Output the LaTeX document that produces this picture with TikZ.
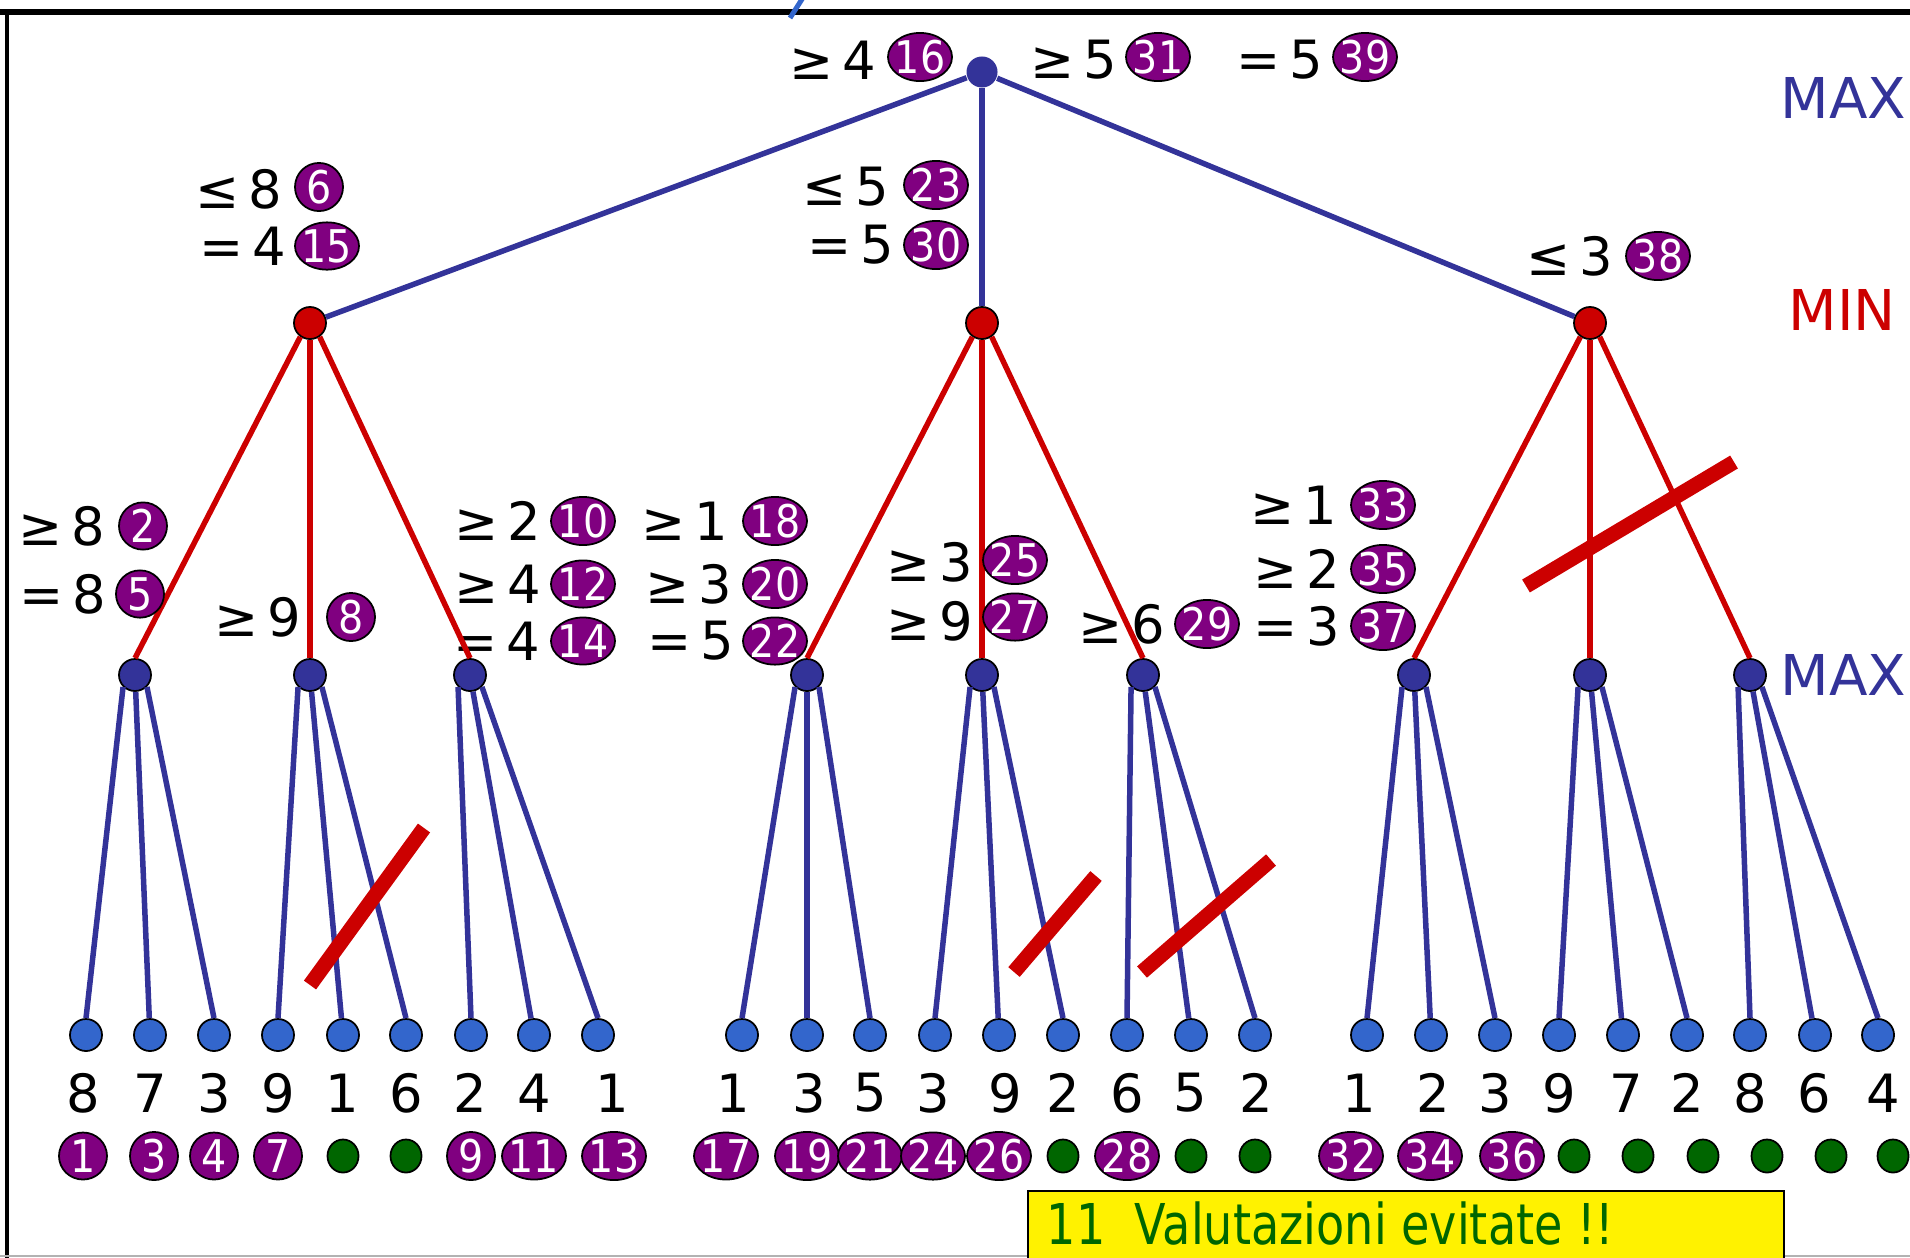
\documentclass[tikz,border=0pt]{standalone}
\usepackage{fontspec}
\setmainfont{DejaVu Sans}
\newfontfamily\notefont{DejaVu Sans}[FakeStretch=0.82]
\newfontfamily\stepfont{DejaVu Sans}[FakeStretch=0.88]
\usetikzlibrary{shapes.geometric}

\definecolor{maxblue}{HTML}{333399}
\definecolor{leafblue}{HTML}{3366CC}
\definecolor{minred}{HTML}{CC0000}
\definecolor{stepviolet}{HTML}{800080}
\definecolor{skipgreen}{HTML}{006600}
\newcommand\stepno[1]{\makebox[0pt]{#1}}

\begin{document}
\begin{tikzpicture}[x=0.01cm, y=-0.01cm,
    maxnode/.style={circle, draw=black, line width=0.5pt, fill=maxblue, minimum size=3.2mm, inner sep=0pt},
    minnode/.style={circle, draw=black, line width=0.5pt, fill=minred, minimum size=3.2mm, inner sep=0pt},
    leafnode/.style={circle, draw=black, line width=0.5pt, fill=leafblue, minimum size=3.2mm, inner sep=0pt},
    stepmark/.style={ellipse, draw=black, line width=0.5pt, fill=stepviolet, text=white, inner sep=0pt, minimum width=4.8mm, minimum height=4.7mm, font=\stepfont\fontsize{12.8}{13}\selectfont},
    wide/.style={minimum width=6.4mm},
    skipdot/.style={ellipse, draw=black, line width=0.5pt, fill=skipgreen, inner sep=0pt, minimum width=3.1mm, minimum height=3.3mm},
    valtext/.style={font=\fontsize{15}{18}\selectfont, inner sep=0pt},
    levtext/.style={font=\fontsize{16}{19}\selectfont, anchor=base west, inner sep=0pt},
    maxedge/.style={draw=maxblue, line width=0.55mm},
    minedge/.style={draw=minred, line width=0.55mm},
    cutmark/.style={draw=minred, line width=1.5mm},
    ]
    \useasboundingbox (0,0) rectangle (1910,1257);

    %Values
    \node[valtext] (a16) at (833,60)   {≥\,4};
    \node[valtext] (a31) at (1074,60)  {≥\,5};
    \node[valtext] (a39) at (1280,60)  {=\,5};
    \node[valtext] (a6)  at (239,189)  {≤\,8};
    \node[valtext] (a15) at (243,246)  {=\,4};
    \node[valtext] (a23) at (846,187)  {≤\,5};
    \node[valtext] (a30) at (851,245)  {=\,5};
    \node[valtext] (a38) at (1570,256) {≤\,3};
    \node[valtext] (a2)  at (62,526)   {≥\,8};
    \node[valtext] (a5)  at (63,594)   {=\,8};
    \node[valtext] (a8)  at (258,617)  {≥\,9};
    \node[valtext] (a10) at (498,521)  {≥\,2};
    \node[valtext] (a12) at (498,584)  {≥\,4};
    \node[valtext] (a14) at (497,641)  {=\,4};
    \node[valtext] (a18) at (685,521)  {≥\,1};
    \node[valtext] (a20) at (689,584)  {≥\,3};
    \node[valtext] (a22) at (691,641)  {=\,5};
    \node[valtext] (a25) at (930,562)  {≥\,3};
    \node[valtext] (a27) at (930,621)  {≥\,9};
    \node[valtext] (a29) at (1122,624) {≥\,6};
    \node[valtext] (a33) at (1294,505) {≥\,1};
    \node[valtext] (a35) at (1297,569) {≥\,2};
    \node[valtext] (a37) at (1297,626) {=\,3};
    \foreach \x/\v in {83/8,150/7,214/3,278/9,342/1,406/6,470/2,534/4,612/1,
                       733/1,809/3,870/5,933/3,1005/9,1063/2,1127/6,1190/5,1256/2,
                       1359/1,1433/2,1495/3,1559/9,1626/7,1687/2,1750/8,1814/6,1883/4}
        \node[valtext] (v\x) at (\x,1093) {\v};

    %Nodes
    \node[maxnode, draw=none, minimum size=3.1mm] (root) at (982,72) {};
    \node[minnode] (mn1) at (310,323)  {};
    \node[minnode] (mn2) at (982,323)  {};
    \node[minnode] (mn3) at (1590,323) {};
    \node[maxnode] (mx1) at (135,675)  {};
    \node[maxnode] (mx2) at (310,675)  {};
    \node[maxnode] (mx3) at (470,675)  {};
    \node[maxnode] (mx4) at (807,675)  {};
    \node[maxnode] (mx5) at (982,675)  {};
    \node[maxnode] (mx6) at (1143,675) {};
    \node[maxnode] (mx7) at (1414,675) {};
    \node[maxnode] (mx8) at (1590,675) {};
    \node[maxnode] (mx9) at (1750,675) {};
    \foreach \x [count=\i] in {86,150,214,278,343,406,471,534,598,
                               742,807,870,935,999,1063,1127,1191,1255,
                               1367,1431,1495,1559,1623,1687,1750,1815,1878}
        \node[leafnode] (lf\i) at (\x,1035) {};

    %Lines
    \draw[maxedge] (root) -- (mn1);
    \draw[maxedge] (root) -- (mn2);
    \draw[maxedge] (root) -- (mn3);
    \foreach \m/\a/\b/\c in {1/1/2/3, 2/4/5/6, 3/7/8/9} {
        \draw[minedge] (mn\m.-125) -- (mx\a.north);
        \draw[minedge] (mn\m) -- (mx\b);
        \draw[minedge] (mn\m.-55) -- (mx\c.north);
    }
    \foreach \m/\a/\b/\c in {1/1/2/3, 2/4/5/6, 3/7/8/9, 4/10/11/12, 5/13/14/15,
                             6/16/17/18, 7/19/20/21, 8/22/23/24, 9/25/26/27} {
        \draw[maxedge] (mx\m.-135) -- (lf\a.north);
        \draw[maxedge] (mx\m) -- (lf\b);
        \draw[maxedge] (mx\m.-45) -- (lf\c.north);
    }

    %Cuts
    \draw[cutmark] (1526,586) -- (1734,462);
    \draw[cutmark] (310,985) -- (424,828);
    \draw[cutmark] (1014,972) -- (1096,876);
    \draw[cutmark] (1142,972) -- (1271,860);

    %Order
    \node[stepmark, wide] (s16) at (920,57)   {\stepno{16}};
    \node[stepmark, wide] (s31) at (1158,57)  {\stepno{31}};
    \node[stepmark, wide] (s39) at (1365,57)  {\stepno{39}};
    \node[stepmark]       (s6)  at (319,187)  {\stepno{6}};
    \node[stepmark, wide] (s15) at (327,246)  {\stepno{15}};
    \node[stepmark, wide] (s23) at (936,185)  {\stepno{23}};
    \node[stepmark, wide] (s30) at (936,245)  {\stepno{30}};
    \node[stepmark, wide] (s38) at (1658,256) {\stepno{38}};
    \node[stepmark]       (s2)  at (143,526)  {\stepno{2}};
    \node[stepmark]       (s5)  at (140,594)  {\stepno{5}};
    \node[stepmark]       (s8)  at (351,617)  {\stepno{8}};
    \node[stepmark, wide] (s10) at (583,521)  {\stepno{10}};
    \node[stepmark, wide] (s12) at (583,584)  {\stepno{12}};
    \node[stepmark, wide] (s14) at (583,641)  {\stepno{14}};
    \node[stepmark, wide] (s18) at (775,521)  {\stepno{18}};
    \node[stepmark, wide] (s20) at (775,584)  {\stepno{20}};
    \node[stepmark, wide] (s22) at (775,641)  {\stepno{22}};
    \node[stepmark, wide] (s25) at (1015,560) {\stepno{25}};
    \node[stepmark, wide] (s27) at (1015,617) {\stepno{27}};
    \node[stepmark, wide] (s29) at (1207,624) {\stepno{29}};
    \node[stepmark, wide] (s33) at (1383,505) {\stepno{33}};
    \node[stepmark, wide] (s35) at (1383,569) {\stepno{35}};
    \node[stepmark, wide] (s37) at (1383,626) {\stepno{37}};
    \foreach \x/\n in {83/1,154/3,214/4,278/7,471/9}
        \node[stepmark] (s\n) at (\x,1156) {\stepno{\n}};
    \foreach \x/\n in {534/11,614/13,726/17,807/19,870/21,933/24,999/26,
                       1127/28,1351/32,1430/34,1512/36}
        \node[stepmark, wide] (s\n) at (\x,1156) {\stepno{\n}};
    \foreach \x in {343,406,1063,1191,1255,1574,1638,1703,1767,1831,1893}
        \node[skipdot] (k\x) at (\x,1156) {};

    %Levels
    \node[levtext, text=maxblue] (lmax1) at (1780,118) {MAX};
    \node[levtext, text=minred]  (lmin)  at (1788,330) {MIN};
    \node[levtext, text=maxblue] (lmax2) at (1780,695) {MAX};

    %Frame
    \draw[line width=0.6mm] (0,12) -- (1915,12);
    \draw[line width=0.4mm] (7,10) -- (7,1262);
    \draw[black!30, line width=0.2mm] (0,1256) -- (1910,1256);
    \draw[leafblue, line width=0.5mm] (804,-4) -- (790,18);

    %Note
    \fill[yellow, draw=black, line width=0.5pt] (1028,1191) rectangle (1784,1275);
    \node[font=\notefont\fontsize{16}{19}\selectfont, text=skipgreen, anchor=base west, inner sep=0pt]
        (note) at (1046,1244) {11~~Valutazioni evitate !!};
\end{tikzpicture}
\end{document}
